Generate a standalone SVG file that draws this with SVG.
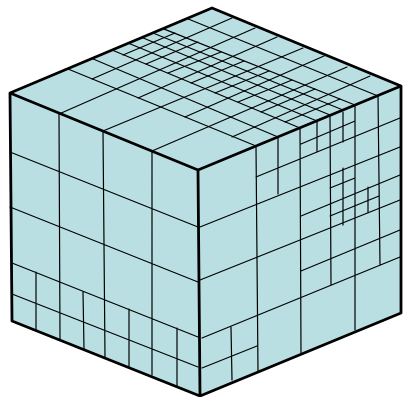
<svg xmlns="http://www.w3.org/2000/svg" width="403" height="397" viewBox="0 0 403 397">
<style>
.f{fill:#b9dfe3;stroke:none}
.l{stroke:#000;stroke-width:1.2;fill:none;stroke-linecap:round}
.o{stroke:#000;stroke-width:2.8;fill:none;stroke-linejoin:round}
</style>
<g id="faces">
<path class="f" d="M10 93L212 8L401 86L401 313L200 396L12 321Z"/>
</g>
<g id="connectors" class="l">
<path id="top-d" d="M68 69L256 146M92 58.500L278 137M112 50L300 128M128 43L317 121M142 37.500L330 115M153 33L343 110M163 28.600L355 105M187 18.500L378 96"/>
<path id="top-u" d="M59 114L255 28M103 131L303 48M152 151L347 67M92 79L232 18M138 98L277 37M185 117L324 56M232 137L370 76"/>
<path id="top-fine" d="M123 55L175 33M146 64L198 42M168 73L221 52M191 83L244 61M215 93L269 71M238 102L292 80M261 112L315 89M285 122L340 99"/>
<path id="left" d="M59 114L60 339M103 131L105 358M152 151L152 375M36 272L36 330M83 292L84 349M129 309L129 367M177 328L177 386M10 152L198 227M10 207L198 282M12 263L198 337M12 294L198 367"/>
<path id="right" d="M256 146L258 371M278 137L278 194M300 128L301 353M317 122L317 152M330 115L331 285M343 112L343 142M355 105L355 330M378 96L380 265M200 227L400 147M256 177L400 118M301 144L355 121M343 168L343 225M330 188L355 178M301 216L400 175M330 216L379 196M368 187L368 213M200 280L400 200M301 271L400 230M202 338L400 257M231 327L232 380M202 368L257 346"/>
</g>
<g id="cube-outline" class="o">
<path d="M10 93L212 8L401 86L401 313L200 396L12 321Z"/>
<path d="M10 93L198 170L401 86M198 170L200 396"/>
</g>
</svg>
